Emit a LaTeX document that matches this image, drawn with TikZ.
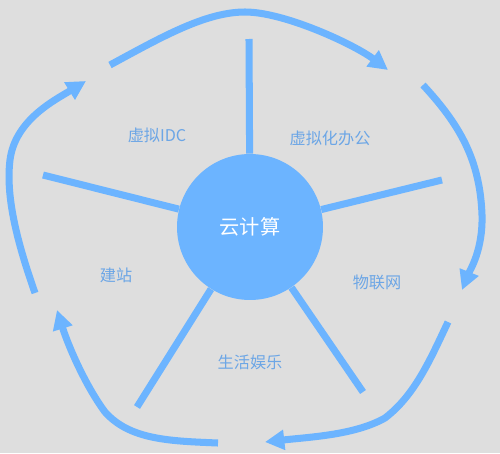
\documentclass[tikz,border=0pt]{standalone}
\usepackage{fontspec}
\setmainfont{Noto Sans CJK SC}
\usepackage{xcolor}
\usetikzlibrary{arrows.meta}
\definecolor{skyblue}{RGB}{108,180,255}
\definecolor{labelblue}{RGB}{108,166,230}
\definecolor{bggray}{RGB}{222,222,222}
\tikzset{
    hub/.style={circle, fill=skyblue, minimum size=2.92cm, inner sep=0pt, text=white, font=\fontsize{11.5}{12}\selectfont},
    topic/.style={text=labelblue, font=\fontsize{9.2}{10}\selectfont},
    spoke/.style={draw=skyblue, line width=4pt},
    ringarrow/.style={draw=skyblue, line width=4pt, -{Triangle[length=11pt,width=11pt]}}
}

\begin{document}
\begin{tikzpicture}[x=0.02cm, y=-0.02cm]
    \fill [bggray] (0,0) rectangle (500,453);
    \useasboundingbox (0,0) rectangle (500,453);

    % hub and spokes
    \node (cloud) [hub] at (250,227) {云计算};
    \coordinate (s1) at (249,39);
    \coordinate (s2) at (442,180);
    \coordinate (s3) at (363,392);
    \coordinate (s4) at (137,407);
    \coordinate (s5) at (43,175);
    \foreach \s in {s1,s2,s3,s4,s5}
        \draw [spoke] (cloud) -- (\s);

    \node (idc) [topic] at (157,135) {虚拟IDC};
    \node (office) [topic] at (330,138) {虚拟化办公};
    \node (iot) [topic] at (377,282) {物联网};
    \node (life) [topic] at (250,362) {生活娱乐};
    \node (site) [topic] at (116,275) {建站};

    % outer ring
    \coordinate (a1) at (110,65);
    \coordinate (b1) at (388,70);
    \coordinate (a2) at (423,85);
    \coordinate (b2) at (462,290);
    \coordinate (a3) at (448,322);
    \coordinate (b3) at (265,442);
    \coordinate (a4) at (218,443);
    \coordinate (b4) at (57,310);
    \coordinate (a5) at (35,293);
    \coordinate (b5) at (86,81);

    \draw [ringarrow] (a1) .. controls (160,38) and (205,12) .. (245,12)
        .. controls (285,12) and (355,45) .. (b1);
    \draw [ringarrow] (a2) .. controls (460,125) and (480,160) .. (482,215)
        .. controls (483,250) and (470,270) .. (b2);
    \draw [ringarrow] (a3) .. controls (430,360) and (415,395) .. (385,418)
        .. controls (355,435) and (310,437) .. (b3);
    \draw [ringarrow] (a4) .. controls (170,441) and (130,440) .. (105,412)
        .. controls (85,385) and (68,345) .. (b4);
    \draw [ringarrow] (a5) .. controls (20,250) and (5,200) .. (10,160)
        .. controls (15,120) and (55,100) .. (b5);
\end{tikzpicture}
\end{document}
